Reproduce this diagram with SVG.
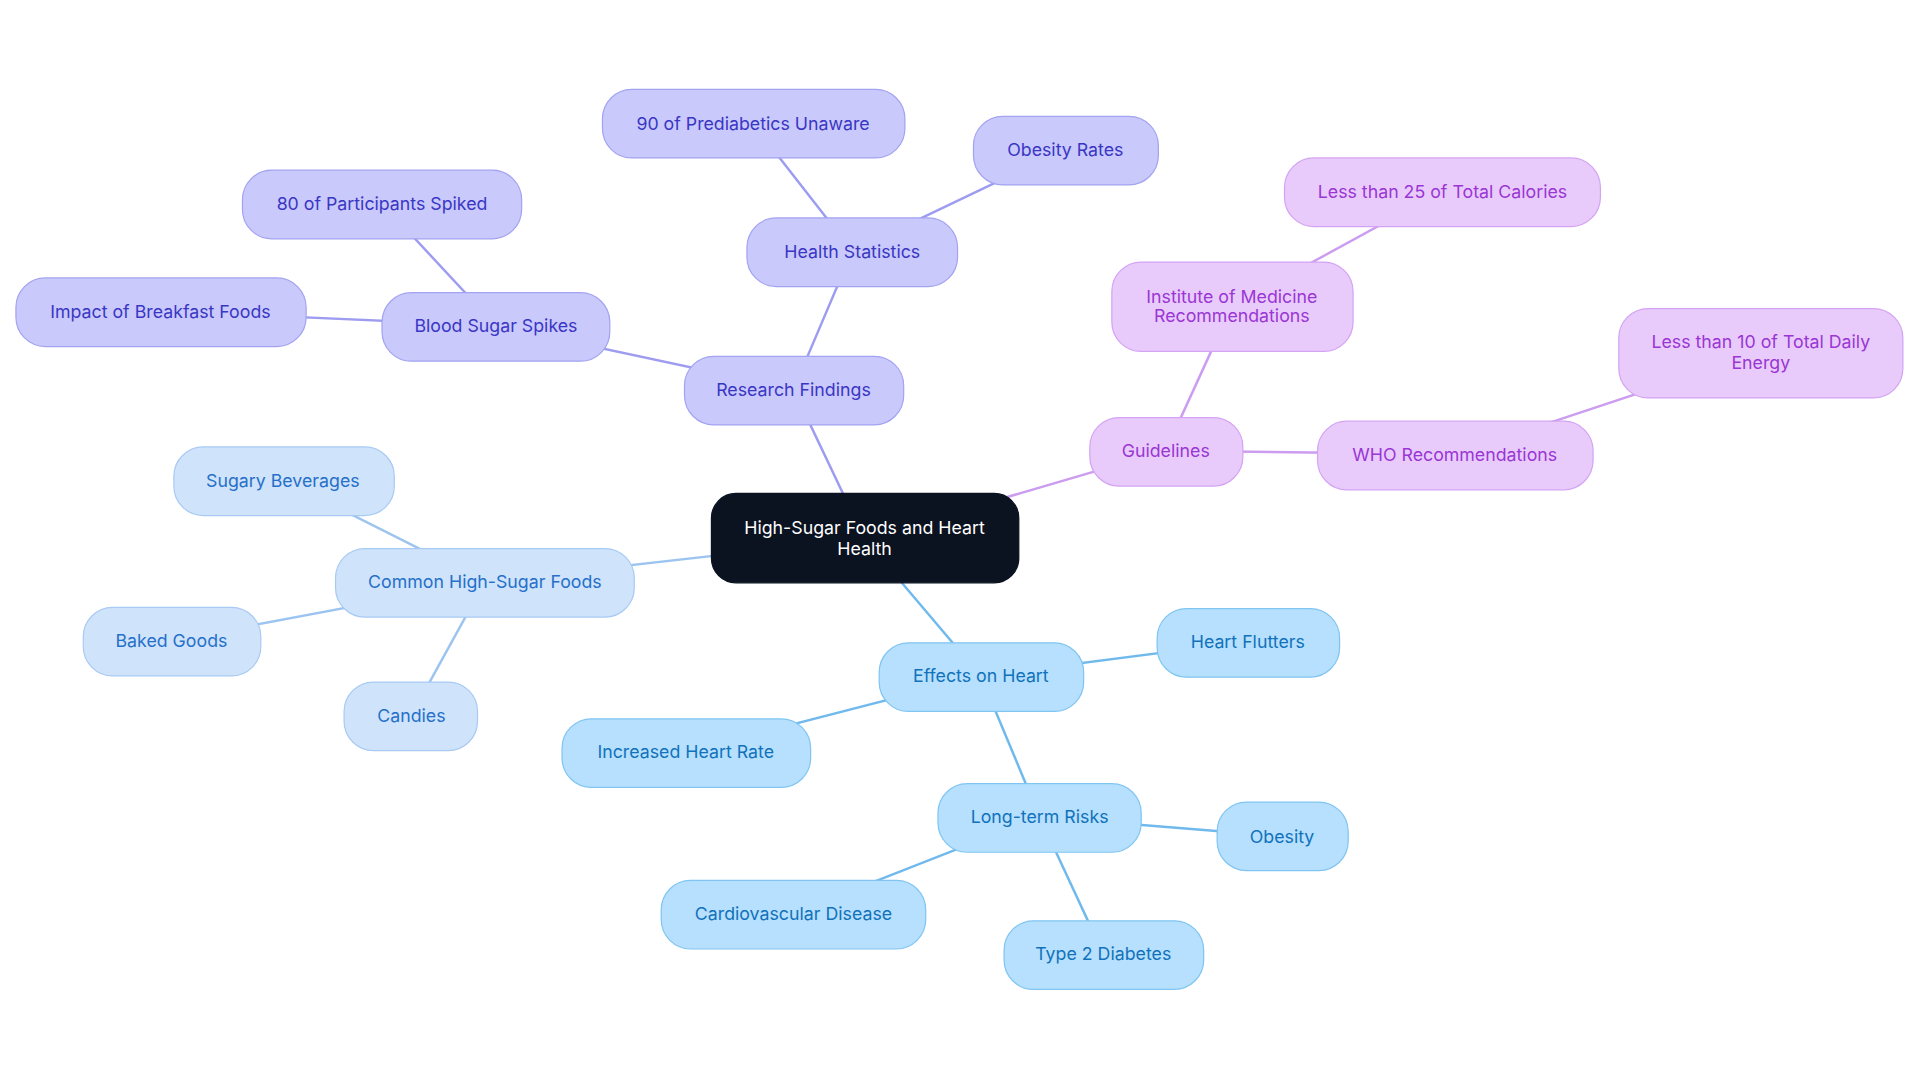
<svg xmlns="http://www.w3.org/2000/svg" width="1920" height="1083" viewBox="0 0 1920 1083">
<style>
text{font-family:Inter,"Noto Sans",sans-serif;font-size:14.5px;text-anchor:middle;dominant-baseline:central}
.i rect{fill:#c9c9fb;stroke:#a3a3f2}.i text{fill:#3a36c4}
.p rect{fill:#e8cbfb;stroke:#d4a3f4}.p text{fill:#9a36d4}
.l rect{fill:#cfe3fb;stroke:#a9caf3}.l text{fill:#2670c9}
.b rect{fill:#b6e0fd;stroke:#80c5f2}.b text{fill:#1172bb}
#edges line{stroke-width:2}
</style>
<rect width="1920" height="1083" fill="#fff"/>
<g transform="scale(1.2245)">
<g id="edges">
<line x1="706" y1="440" x2="648" y2="318" stroke="#9d9cf0"/>
<line x1="648" y1="318" x2="696" y2="205" stroke="#9d9cf0"/>
<line x1="696" y1="205" x2="615" y2="101" stroke="#9d9cf0"/>
<line x1="696" y1="205" x2="870" y2="122" stroke="#9d9cf0"/>
<line x1="648" y1="318" x2="405" y2="266" stroke="#9d9cf0"/>
<line x1="405" y1="266" x2="312" y2="166" stroke="#9d9cf0"/>
<line x1="405" y1="266" x2="131" y2="254" stroke="#9d9cf0"/>
<line x1="706" y1="440" x2="952" y2="368" stroke="#cc9cf0"/>
<line x1="952" y1="368" x2="1006" y2="250" stroke="#cc9cf0"/>
<line x1="1006" y1="250" x2="1178" y2="156" stroke="#cc9cf0"/>
<line x1="952" y1="368" x2="1188" y2="371" stroke="#cc9cf0"/>
<line x1="1188" y1="371" x2="1438" y2="288" stroke="#cc9cf0"/>
<line x1="706" y1="440" x2="396" y2="475" stroke="#9cc4f0"/>
<line x1="396" y1="475" x2="231" y2="392" stroke="#9cc4f0"/>
<line x1="396" y1="475" x2="140" y2="523" stroke="#9cc4f0"/>
<line x1="396" y1="475" x2="336" y2="584" stroke="#9cc4f0"/>
<line x1="706" y1="440" x2="801" y2="552" stroke="#70b9ec"/>
<line x1="801" y1="552" x2="1019" y2="524" stroke="#70b9ec"/>
<line x1="801" y1="552" x2="560" y2="614" stroke="#70b9ec"/>
<line x1="801" y1="552" x2="849" y2="667" stroke="#70b9ec"/>
<line x1="849" y1="667" x2="1047" y2="683" stroke="#70b9ec"/>
<line x1="849" y1="667" x2="648" y2="746" stroke="#70b9ec"/>
<line x1="849" y1="667" x2="901" y2="779" stroke="#70b9ec"/>
</g>
<g id="root"><rect x="581" y="403" width="251" height="73" rx="20" fill="#0b1220" stroke="#0b1220"/><text x="706" y="431" fill="#fff">High-Sugar Foods and Heart</text><text x="706" y="448" fill="#fff">Health</text></g>
<g id="research" class="i"><rect x="559" y="291" width="179" height="56" rx="24"/><text x="648" y="318">Research Findings</text></g>
<g id="healthstats" class="i"><rect x="610" y="178" width="172" height="56" rx="24"/><text x="696" y="205">Health Statistics</text></g>
<g id="prediab" class="i"><rect x="492" y="73" width="247" height="56" rx="24"/><text x="615" y="101">90 of Prediabetics Unaware</text></g>
<g id="obrates" class="i"><rect x="795" y="95" width="151" height="56" rx="24"/><text x="870" y="122">Obesity Rates</text></g>
<g id="spikes" class="i"><rect x="312" y="239" width="186" height="56" rx="24"/><text x="405" y="266">Blood Sugar Spikes</text></g>
<g id="particip" class="i"><rect x="198" y="139" width="228" height="56" rx="24"/><text x="312" y="166">80 of Participants Spiked</text></g>
<g id="breakfast" class="i"><rect x="13" y="227" width="237" height="56" rx="24"/><text x="131" y="254">Impact of Breakfast Foods</text></g>
<g id="guidelines" class="p"><rect x="890" y="341" width="125" height="56" rx="24"/><text x="952" y="368">Guidelines</text></g>
<g id="iom" class="p"><rect x="908" y="214" width="197" height="73" rx="24"/><text x="1006" y="242">Institute of Medicine</text><text x="1006" y="258">Recommendations</text></g>
<g id="less25" class="p"><rect x="1049" y="129" width="258" height="56" rx="24"/><text x="1178" y="156">Less than 25 of Total Calories</text></g>
<g id="who" class="p"><rect x="1076" y="344" width="225" height="56" rx="24"/><text x="1188" y="371">WHO Recommendations</text></g>
<g id="less10" class="p"><rect x="1322" y="252" width="232" height="73" rx="24"/><text x="1438" y="279">Less than 10 of Total Daily</text><text x="1438" y="296">Energy</text></g>
<g id="common" class="l"><rect x="274" y="448" width="244" height="56" rx="24"/><text x="396" y="475">Common High-Sugar Foods</text></g>
<g id="bev" class="l"><rect x="142" y="365" width="180" height="56" rx="24"/><text x="231" y="392">Sugary Beverages</text></g>
<g id="baked" class="l"><rect x="68" y="496" width="145" height="56" rx="24"/><text x="140" y="523">Baked Goods</text></g>
<g id="candies" class="l"><rect x="281" y="557" width="109" height="56" rx="24"/><text x="336" y="584">Candies</text></g>
<g id="effects" class="b"><rect x="718" y="525" width="167" height="56" rx="24"/><text x="801" y="552">Effects on Heart</text></g>
<g id="flutters" class="b"><rect x="945" y="497" width="149" height="56" rx="24"/><text x="1019" y="524">Heart Flutters</text></g>
<g id="rate" class="b"><rect x="459" y="587" width="203" height="56" rx="24"/><text x="560" y="614">Increased Heart Rate</text></g>
<g id="longterm" class="b"><rect x="766" y="640" width="166" height="56" rx="24"/><text x="849" y="667">Long-term Risks</text></g>
<g id="obesity" class="b"><rect x="994" y="655" width="107" height="56" rx="24"/><text x="1047" y="683">Obesity</text></g>
<g id="cvd" class="b"><rect x="540" y="719" width="216" height="56" rx="24"/><text x="648" y="746">Cardiovascular Disease</text></g>
<g id="t2d" class="b"><rect x="820" y="752" width="163" height="56" rx="24"/><text x="901" y="779">Type 2 Diabetes</text></g>
</g>
</svg>
